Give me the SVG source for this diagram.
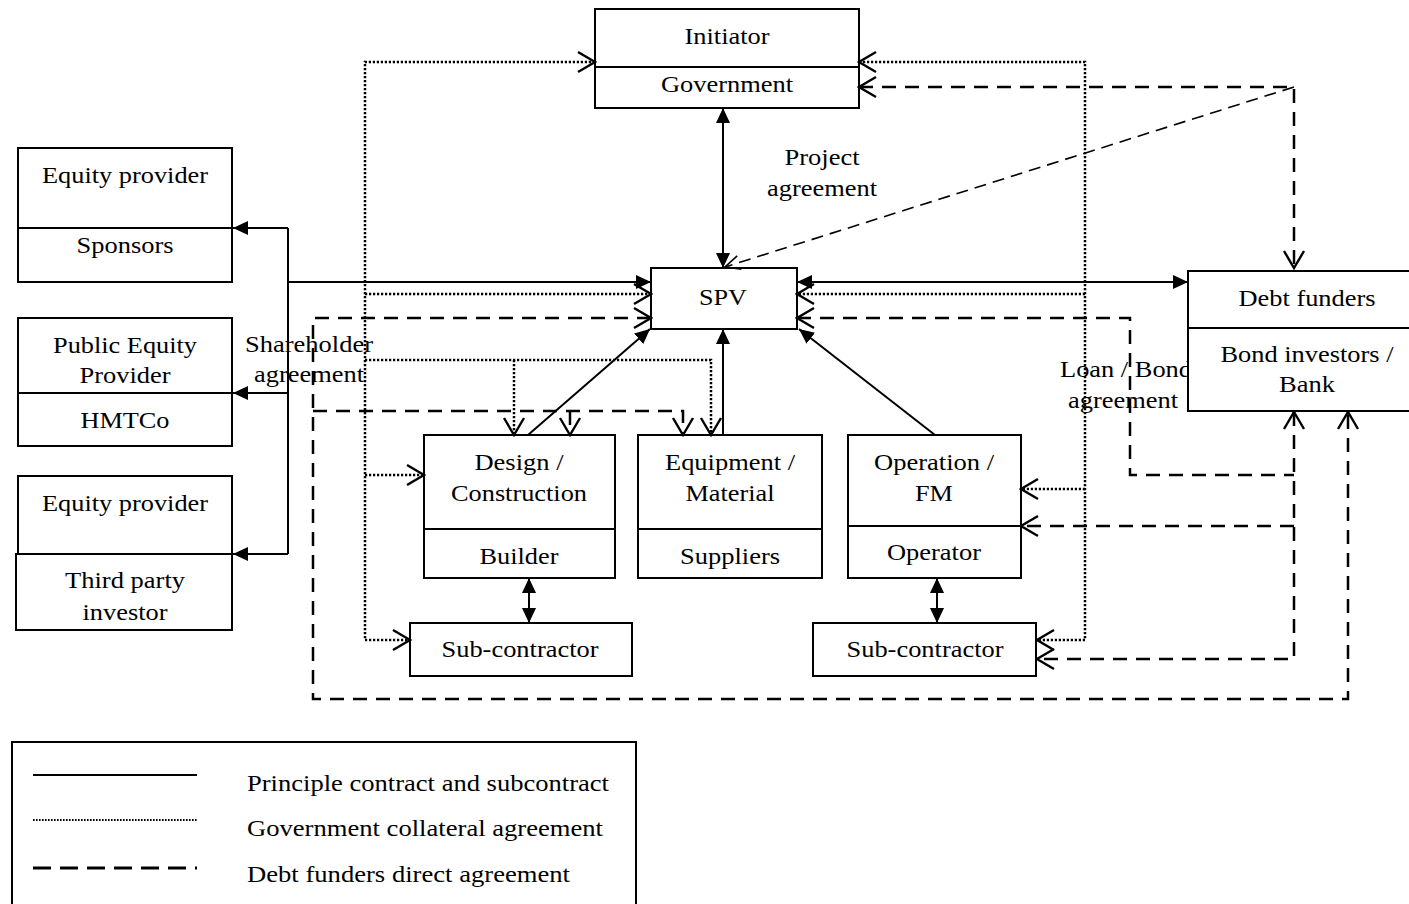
<svg xmlns="http://www.w3.org/2000/svg" width="1409" height="904" viewBox="0 0 1409 904">
  <style>
    text { font-family: "Liberation Serif", "Times New Roman", Times, serif; font-size: 23px; fill: #000; text-anchor: middle; }
    .box { fill: #fff; stroke: #000; stroke-width: 2; }
    .div { stroke: #000; stroke-width: 2; fill: none; }
    .solid { fill: none; stroke: #000; stroke-width: 2; }
    .dot { fill: none; stroke: #000; stroke-width: 2.5; stroke-dasharray: 2.2 1.8; }
    .dash { fill: none; stroke: #000; stroke-width: 2.5; stroke-dasharray: 14 9; }
    .dash-thin { fill: none; stroke: #000; stroke-width: 1.6; stroke-dasharray: 12 7; }
    .legend { text-anchor: start; }
  </style>
  <defs>
    <marker id="tri" viewBox="0 0 15 14" refX="15" refY="7" markerWidth="15" markerHeight="14" markerUnits="userSpaceOnUse" orient="auto-start-reverse">
      <path d="M0,0 L15,7 L0,14 Z" fill="#000"/>
    </marker>
    <marker id="vee" viewBox="0 0 20 26" refX="18" refY="13" markerWidth="20" markerHeight="26" markerUnits="userSpaceOnUse" orient="auto-start-reverse">
      <path d="M1,3 L18,13 L1,23" fill="none" stroke="#000" stroke-width="2.4"/>
    </marker>
    <marker id="vee-thin" viewBox="0 0 18 18" refX="16" refY="9" markerWidth="18" markerHeight="18" markerUnits="userSpaceOnUse" orient="auto">
      <path d="M1,2 L16,9 L1,16" fill="none" stroke="#000" stroke-width="1.6"/>
    </marker>
  </defs>

  <rect width="1409" height="904" fill="#fff"/>

  <!-- free-standing agreement labels -->
  <g id="labels">
    <text x="822" y="165" textLength="75" lengthAdjust="spacingAndGlyphs">Project</text>
    <text x="822" y="196" textLength="110" lengthAdjust="spacingAndGlyphs">agreement</text>
    <text x="309" y="352" textLength="128" lengthAdjust="spacingAndGlyphs">Shareholder</text>
    <text x="309" y="382" textLength="110" lengthAdjust="spacingAndGlyphs">agreement</text>
    <text x="1060" y="377" style="text-anchor:start" textLength="132" lengthAdjust="spacingAndGlyphs">Loan / Bond</text>
    <text x="1068" y="408" style="text-anchor:start" textLength="110" lengthAdjust="spacingAndGlyphs">agreement</text>
  </g>

  <g id="initiator">
    <rect class="box" x="595" y="9" width="264" height="99"/>
    <line class="div" x1="595" y1="67" x2="859" y2="67"/>
    <text x="727" y="44" textLength="85" lengthAdjust="spacingAndGlyphs">Initiator</text>
    <text x="727" y="92" textLength="132" lengthAdjust="spacingAndGlyphs">Government</text>
  </g>

  <g id="spv">
    <rect class="box" x="651" y="268" width="146" height="61"/>
    <text x="723" y="305" textLength="48" lengthAdjust="spacingAndGlyphs">SPV</text>
  </g>

  <g id="sponsors">
    <rect class="box" x="18" y="148" width="214" height="134"/>
    <line class="div" x1="18" y1="228" x2="232" y2="228"/>
    <text x="125" y="183" textLength="166" lengthAdjust="spacingAndGlyphs">Equity provider</text>
    <text x="125" y="253" textLength="97" lengthAdjust="spacingAndGlyphs">Sponsors</text>
  </g>

  <g id="hmtco">
    <rect class="box" x="18" y="318" width="214" height="128"/>
    <line class="div" x1="18" y1="393" x2="232" y2="393"/>
    <text x="125" y="353" textLength="144" lengthAdjust="spacingAndGlyphs">Public Equity</text>
    <text x="125" y="383" textLength="91" lengthAdjust="spacingAndGlyphs">Provider</text>
    <text x="125" y="428" textLength="89" lengthAdjust="spacingAndGlyphs">HMTCo</text>
  </g>

  <g id="third-party">
    <rect class="box" x="18" y="476" width="214" height="78"/>
    <rect class="box" x="16" y="554" width="216" height="76"/>
    <text x="125" y="511" textLength="166" lengthAdjust="spacingAndGlyphs">Equity provider</text>
    <text x="125" y="588" textLength="120" lengthAdjust="spacingAndGlyphs">Third party</text>
    <text x="125" y="620" textLength="85" lengthAdjust="spacingAndGlyphs">investor</text>
  </g>

  <g id="builder">
    <rect class="box" x="424" y="435" width="191" height="143"/>
    <line class="div" x1="424" y1="529" x2="615" y2="529"/>
    <text x="519" y="470" textLength="89" lengthAdjust="spacingAndGlyphs">Design /</text>
    <text x="519" y="501" textLength="136" lengthAdjust="spacingAndGlyphs">Construction</text>
    <text x="519" y="564" textLength="79" lengthAdjust="spacingAndGlyphs">Builder</text>
  </g>

  <g id="suppliers">
    <rect class="box" x="638" y="435" width="184" height="143"/>
    <line class="div" x1="638" y1="529" x2="822" y2="529"/>
    <text x="730" y="470" textLength="130" lengthAdjust="spacingAndGlyphs">Equipment /</text>
    <text x="730" y="501" textLength="89" lengthAdjust="spacingAndGlyphs">Material</text>
    <text x="730" y="564" textLength="100" lengthAdjust="spacingAndGlyphs">Suppliers</text>
  </g>

  <g id="operator">
    <rect class="box" x="848" y="435" width="173" height="143"/>
    <line class="div" x1="848" y1="526" x2="1021" y2="526"/>
    <text x="934" y="470" textLength="120" lengthAdjust="spacingAndGlyphs">Operation /</text>
    <text x="934" y="501" textLength="38" lengthAdjust="spacingAndGlyphs">FM</text>
    <text x="934" y="560" textLength="94" lengthAdjust="spacingAndGlyphs">Operator</text>
  </g>

  <g id="subcontractor-build">
    <rect class="box" x="410" y="623" width="222" height="53"/>
    <text x="520" y="657" textLength="157" lengthAdjust="spacingAndGlyphs">Sub-contractor</text>
  </g>

  <g id="subcontractor-ops">
    <rect class="box" x="813" y="623" width="223" height="53"/>
    <text x="925" y="657" textLength="157" lengthAdjust="spacingAndGlyphs">Sub-contractor</text>
  </g>

  <g id="debt-funders">
    <rect class="box" x="1188" y="271" width="240" height="140"/>
    <line class="div" x1="1188" y1="328" x2="1428" y2="328"/>
    <text x="1307" y="306" textLength="137" lengthAdjust="spacingAndGlyphs">Debt funders</text>
    <text x="1307" y="362" textLength="173" lengthAdjust="spacingAndGlyphs">Bond investors /</text>
    <text x="1307" y="392" textLength="56" lengthAdjust="spacingAndGlyphs">Bank</text>
  </g>

  <g id="connectors">
    <!-- principal contracts and subcontracts -->
    <path class="solid" d="M288,228 V554"/>
    <path class="solid" d="M288,228 H233" marker-end="url(#tri)"/>
    <path class="solid" d="M288,393 H233" marker-end="url(#tri)"/>
    <path class="solid" d="M288,554 H233" marker-end="url(#tri)"/>
    <path class="solid" d="M288,282 H651" marker-end="url(#tri)"/>
    <path class="solid" d="M723,108 V268" marker-start="url(#tri)" marker-end="url(#tri)"/>
    <path class="solid" d="M797,282 H1188" marker-start="url(#tri)" marker-end="url(#tri)"/>
    <path class="solid" d="M528,435 L650,329" marker-end="url(#tri)"/>
    <path class="solid" d="M723,435 V329" marker-end="url(#tri)"/>
    <path class="solid" d="M935,435 L799,329" marker-end="url(#tri)"/>
    <path class="solid" d="M529,578 V623" marker-start="url(#tri)" marker-end="url(#tri)"/>
    <path class="solid" d="M937,578 V623" marker-start="url(#tri)" marker-end="url(#tri)"/>

    <!-- government collateral agreements -->
    <path class="dot" d="M595,62 H365 V640 H410" marker-start="url(#vee)" marker-end="url(#vee)"/>
    <path class="dot" d="M365,294 H651" marker-end="url(#vee)"/>
    <path class="dot" d="M365,360 H711 V435" marker-end="url(#vee)"/>
    <path class="dot" d="M514,360 V435" marker-end="url(#vee)"/>
    <path class="dot" d="M365,475 H424" marker-end="url(#vee)"/>
    <path class="dot" d="M859,62 H1085 V640 H1037" marker-start="url(#vee)" marker-end="url(#vee)"/>
    <path class="dot" d="M1085,294 H797" marker-end="url(#vee)"/>
    <path class="dot" d="M1085,489 H1021" marker-end="url(#vee)"/>

    <!-- debt funders direct agreements -->
    <path class="dash" d="M859,87 H1294 V268" marker-start="url(#vee)" marker-end="url(#vee)"/>
    <path class="dash-thin" d="M1294,87 L725,267" marker-end="url(#vee-thin)"/>
    <path class="dash" d="M651,318 H313 V699 H1348 V412" marker-start="url(#vee)" marker-end="url(#vee)"/>
    <path class="dash" d="M313,411 H683 V435" marker-end="url(#vee)"/>
    <path class="dash" d="M570,411 V435" marker-end="url(#vee)"/>
    <path class="dash" d="M797,318 H1130 V475 H1294" marker-start="url(#vee)"/>
    <path class="dash" d="M1294,412 V659 H1037" marker-start="url(#vee)" marker-end="url(#vee)"/>
    <path class="dash" d="M1294,526 H1021" marker-end="url(#vee)"/>
  </g>

  <g id="legend">
    <rect x="12" y="742" width="624" height="200" fill="#fff" stroke="#000" stroke-width="2"/>
    <line x1="33" y1="775" x2="197" y2="775" stroke="#000" stroke-width="2"/>
    <line x1="33" y1="820" x2="197" y2="820" stroke="#000" stroke-width="2" stroke-dasharray="1.6 1.4"/>
    <line x1="33" y1="868" x2="197" y2="868" stroke="#000" stroke-width="3" stroke-dasharray="18 9"/>
    <text class="legend" x="247" y="791" textLength="362" lengthAdjust="spacingAndGlyphs">Principle contract and subcontract</text>
    <text class="legend" x="247" y="836" textLength="356" lengthAdjust="spacingAndGlyphs">Government collateral agreement</text>
    <text class="legend" x="247" y="882" textLength="323" lengthAdjust="spacingAndGlyphs">Debt funders direct agreement</text>
  </g>
</svg>
